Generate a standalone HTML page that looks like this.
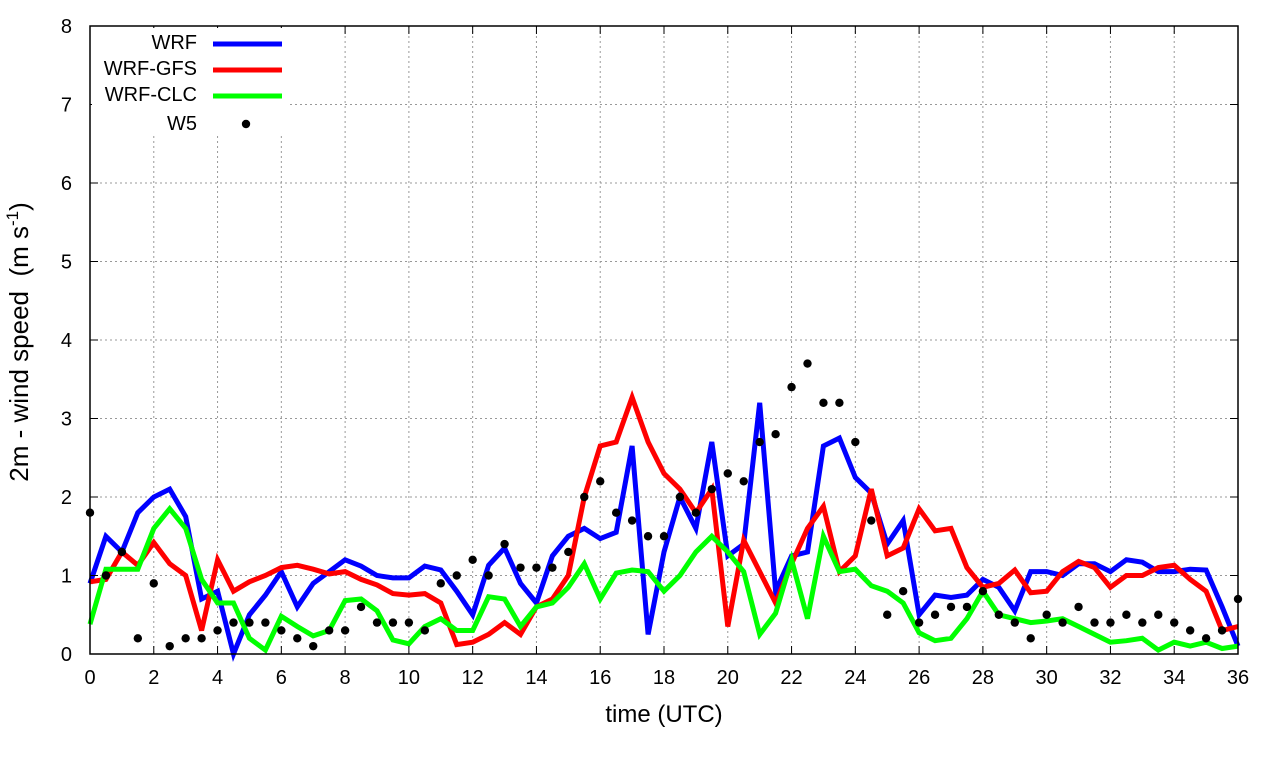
<!DOCTYPE html>
<html><head><meta charset="utf-8"><style>
body{margin:0;background:#fff;}
svg text{font-family:"Liberation Sans",sans-serif;fill:#000;}
</style></head><body>
<svg id="chart" width="1280" height="760" xmlns="http://www.w3.org/2000/svg">
<rect width="1280" height="760" fill="#fff"/>
<g id="grid"></g>
<g id="series"></g>
<g id="axes"></g>
<g id="legend"></g>
</svg>
<script>
const xTicks=[0,2,4,6,8,10,12,14,16,18,20,22,24,26,28,30,32,34,36];
const yTicks=[0,1,2,3,4,5,6,7,8];
const wrf=[0.9,1.5,1.3,1.8,2.0,2.1,1.75,0.7,0.8,0.0,0.5,0.75,1.05,0.6,0.9,1.05,1.2,1.12,1.0,0.97,0.97,1.12,1.07,0.8,0.5,1.13,1.35,0.9,0.65,1.25,1.5,1.6,1.47,1.55,2.65,0.25,1.3,2.0,1.6,2.7,1.25,1.4,3.2,0.8,1.25,1.3,2.65,2.75,2.25,2.05,1.4,1.7,0.5,0.75,0.72,0.75,0.95,0.85,0.55,1.05,1.05,1.0,1.15,1.15,1.05,1.2,1.17,1.05,1.05,1.08,1.07,0.6,0.1];
const wrfGfs=[0.92,0.95,1.3,1.13,1.42,1.15,1.0,0.3,1.2,0.8,0.92,1.0,1.1,1.13,1.08,1.02,1.05,0.95,0.88,0.77,0.75,0.77,0.65,0.12,0.15,0.25,0.4,0.25,0.6,0.7,1.0,2.0,2.65,2.7,3.27,2.7,2.3,2.1,1.8,2.1,0.35,1.45,1.05,0.65,1.15,1.6,1.88,1.05,1.25,2.1,1.25,1.35,1.85,1.57,1.6,1.1,0.85,0.9,1.07,0.78,0.8,1.05,1.18,1.1,0.85,1.0,1.0,1.1,1.13,0.95,0.8,0.3,0.35];
const wrfClc=[0.38,1.08,1.08,1.08,1.6,1.85,1.6,0.95,0.65,0.65,0.2,0.05,0.48,0.35,0.23,0.3,0.68,0.7,0.55,0.18,0.13,0.35,0.45,0.3,0.3,0.73,0.7,0.35,0.6,0.65,0.85,1.15,0.7,1.03,1.07,1.05,0.8,1.0,1.3,1.5,1.3,1.05,0.25,0.52,1.2,0.45,1.5,1.05,1.08,0.87,0.8,0.65,0.27,0.17,0.2,0.45,0.8,0.5,0.45,0.4,0.42,0.45,0.35,0.25,0.15,0.17,0.2,0.05,0.15,0.1,0.15,0.07,0.1];
const w5=[1.8,1.0,1.3,0.2,0.9,0.1,0.2,0.2,0.3,0.4,0.4,0.4,0.3,0.2,0.1,0.3,0.3,0.6,0.4,0.4,0.4,0.3,0.9,1.0,1.2,1.0,1.4,1.1,1.1,1.1,1.3,2.0,2.2,1.8,1.7,1.5,1.5,2.0,1.8,2.1,2.3,2.2,2.7,2.8,3.4,3.7,3.2,3.2,2.7,1.7,0.5,0.8,0.4,0.5,0.6,0.6,0.8,0.5,0.4,0.2,0.5,0.4,0.6,0.4,0.4,0.5,0.4,0.5,0.4,0.3,0.2,0.3,0.7];
const step=0.5;

const NS="http://www.w3.org/2000/svg";
const X0=90,X1=1238,Y0=654,Y1=26;
const xs=t=>X0+(X1-X0)*t/36;
const ys=v=>Y0-(Y0-Y1)*v/8;
function mk(tag,attrs,parent){const e=document.createElementNS(NS,tag);for(const k in attrs)e.setAttribute(k,attrs[k]);document.getElementById(parent).appendChild(e);return e;}

xTicks.forEach(t=>{
  const g=mk('line',{x1:xs(t),x2:xs(t),y1:Y1,y2:Y0,stroke:'#999','stroke-width':1,'stroke-dasharray':'2,3'},'grid');
  
  
  const l=mk('text',{x:xs(t),y:Y0+30,'text-anchor':'middle','font-size':20},'axes');l.textContent=t;
  
  
  mk('line',{x1:xs(t),x2:xs(t),y1:Y0,y2:Y0-8,stroke:'#000'},'axes');
  mk('line',{x1:xs(t),x2:xs(t),y1:Y1,y2:Y1+8,stroke:'#000'},'axes');
});
yTicks.forEach(v=>{
  const g=mk('line',{x1:X0,x2:X1,y1:ys(v),y2:ys(v),stroke:'#999','stroke-width':1,'stroke-dasharray':'2,3'},'grid');
  
  
  const l=mk('text',{x:X0-18,y:ys(v)+7,'text-anchor':'end','font-size':20},'axes');l.textContent=v;
  
  
  mk('line',{x1:X0,x2:X0+8,y1:ys(v),y2:ys(v),stroke:'#000'},'axes');
  mk('line',{x1:X1,x2:X1-8,y1:ys(v),y2:ys(v),stroke:'#000'},'axes');
});
const frame=mk('rect',{x:X0,y:Y1,width:X1-X0,height:Y0-Y1,fill:'none',stroke:'#000','stroke-width':1.5},'axes');


const xt=mk('text',{x:(X0+X1)/2,y:722,'text-anchor':'middle','font-size':24},'axes');xt.textContent='time (UTC)';


const yt=mk('text',{transform:'translate(28,342) rotate(-90)','text-anchor':'middle','font-size':26,style:'white-space:pre'},'axes');
yt.innerHTML='2m - wind speed  (m s<tspan dy="-10" font-size="17">-1</tspan><tspan dy="10">)</tspan>';



function line(arr,color,name){
  const pts=arr.map((v,i)=>xs(i*step).toFixed(1)+','+ys(v).toFixed(1)).join(' ');
  const p=mk('polyline',{points:pts,fill:'none',stroke:color,'stroke-width':5,'stroke-linejoin':'miter'},'series');
  
  
}
line(wrf,'#0000ff','wrf-line');
line(wrfGfs,'#ff0000','wrf-gfs-line');
line(wrfClc,'#00ff00','wrf-clc-line');
w5.forEach((v,i)=>{
  const c=mk('circle',{cx:xs(i*step),cy:ys(v),r:4.2,fill:'#000'},'series');
  
  
});

mk('rect',{x:92,y:28,width:198,height:108,fill:'#fff'},'legend');
const leg=[['WRF','#0000ff',42],['WRF-GFS','#ff0000',68],['WRF-CLC','#00ff00',94]];
leg.forEach(([n,c,y])=>{
  const t=mk('text',{x:197,y:y+7,'text-anchor':'end','font-size':20},'legend');t.textContent=n;
  
  
  mk('line',{x1:213,x2:282,y1:y+2,y2:y+2,stroke:c,'stroke-width':5},'legend');
});
const tw=mk('text',{x:197,y:130,'text-anchor':'end','font-size':20},'legend');tw.textContent='W5';


mk('circle',{cx:246,cy:124,r:4.2,fill:'#000'},'legend');
</script>
</body></html>
